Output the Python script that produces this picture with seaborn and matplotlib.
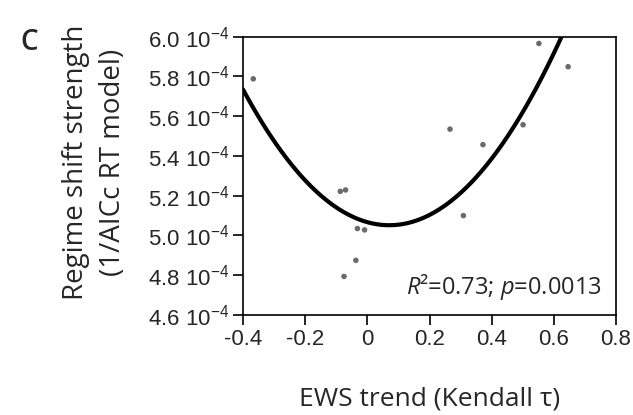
import numpy as np
import pandas as pd
import matplotlib
matplotlib.use('Agg')
import matplotlib.pyplot as plt
import seaborn as sns

#DATA
ews_tau = [-0.367, -0.087, -0.070, -0.032, -0.009, -0.037, -0.075,
           0.266, 0.372, 0.309, 0.501, 0.552, 0.646]
rs_strength = [5.788, 5.222, 5.229, 5.035, 5.028, 4.875, 4.794,
               5.535, 5.457, 5.100, 5.557, 5.966, 5.849]  # x 1e-4
x_ticks = [-0.4, -0.2, 0, 0.2, 0.4, 0.6, 0.8]
y_ticks = [4.6, 4.8, 5.0, 5.2, 5.4, 5.6, 5.8, 6.0]

df = pd.DataFrame({'tau': ews_tau, 'strength': rs_strength})

sns.set_style('white')
plt.rcParams['font.family'] = ['Open Sans', 'DejaVu Sans']
plt.rcParams['mathtext.fontset'] = 'custom'
plt.rcParams['mathtext.rm'] = 'Liberation Sans'
plt.rcParams['mathtext.it'] = 'Open Sans:italic'

fig = plt.figure(figsize=(6.33, 4.15), dpi=100)
ax = fig.add_axes([243/633, 1-315/415, 373/633, 278.3/415])
ax.set_xlim(-0.4, 0.8)
ax.set_ylim(4.6, 6.0)

#quadratic fit + points
sns.regplot(data=df, x='tau', y='strength', order=2, ci=None, truncate=False,
            scatter=False, ax=ax, line_kws={'color': 'black', 'lw': 3.0})
sns.scatterplot(data=df, x='tau', y='strength', ax=ax, color='#6b6b6b',
                s=16, edgecolor='none', zorder=3)
ax.set_xlim(-0.4, 0.8)
ax.set_ylim(4.6, 6.0)

ax.set_xticks(x_ticks)
ax.set_yticks(y_ticks)
tickfont = {'family': 'Liberation Sans', 'size': 16}
ax.set_xticklabels(['0' if t == 0 else '{:.1f}'.format(t) for t in x_ticks], fontdict=tickfont)
ax.set_yticklabels(['{:.1f} $\\mathregular{{10^{{-4}}}}$'.format(t) for t in y_ticks], fontdict=tickfont)
ax.tick_params(axis='both', direction='out', length=7, width=1.2, color='black',
               bottom=True, left=True, top=False, right=False, pad=3)
for s in ax.spines.values():
    s.set_color('black')
    s.set_linewidth(1.2)

ax.set_xlabel('EWS trend (Kendall τ)', fontsize=19, labelpad=26)
ax.set_ylabel('Regime shift strength\n(1/AICc RT model)', fontsize=20, linespacing=1.4)
ax.yaxis.set_label_coords(-0.312, 0.55)
ax.text(0.962, 0.075, '$R$²=0.73; $p$=0.0013', transform=ax.transAxes,
        ha='right', va='baseline', fontsize=17)
fig.text(20/633, 1-50/415, 'C', fontsize=20, fontweight='semibold')

plt.savefig('out.png', dpi=100)
